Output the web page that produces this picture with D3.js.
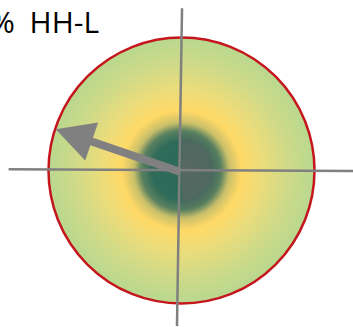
<!DOCTYPE html>
<html>
<head>
<meta charset="utf-8">
<script src="https://cdn.jsdelivr.net/npm/d3@7"></script>
<style>
  html, body { margin: 0; padding: 0; background: #fff; }
  svg { display: block; }
</style>
</head>
<body>
<svg id="chart" width="353" height="327"></svg>
<script>
// Indicator label, split so the unit sign can sit a little apart
const titleParts = ["%", " HH-L"];

// Resultant vector on the unit disc (x to the right, y upward)
const vectorX = [-0.946];
const vectorY = [0.31];

// Reference axes, endpoints in unit-disc coordinates
const axisNames = ["horizontal", "vertical"];
const axisStartX = [-1.30, 0.004];
const axisStartY = [0.01, 1.22];
const axisEndX = [1.29, -0.034];
const axisEndY = [-0.003, -1.17];

// Colour ramp from the centre of the disc to its rim
const rampOffsets = [0, 0.22, 0.3, 0.36, 0.45, 0.6, 0.8, 1];
const rampColors = ["#2e6a59", "#2f6b59", "#5a8160", "#c9bf6a", "#ffd966", "#ecdc7a", "#cfda88", "#b8d88f"];

const W = 353, H = 327;
const cx = 181.5, cy = 170.5, R = 133;

const x = d3.scaleLinear().domain([-1, 1]).range([cx - R, cx + R]);
const y = d3.scaleLinear().domain([-1, 1]).range([cy + R, cy - R]);

const svg = d3.select("#chart");
const defs = svg.append("defs");

const grad = defs.append("radialGradient")
  .attr("id", "discFill")
  .attr("gradientUnits", "userSpaceOnUse")
  .attr("cx", x(0)).attr("cy", y(0)).attr("r", x(1) - x(0));
grad.selectAll("stop")
  .data(rampOffsets)
  .join("stop")
  .attr("offset", d => d)
  .attr("stop-color", (d, i) => rampColors[i]);

// Soft grey haze over the right half of the core
const haze = defs.append("radialGradient")
  .attr("id", "coreHaze")
  .attr("gradientUnits", "userSpaceOnUse")
  .attr("cx", x(0)).attr("cy", y(0)).attr("r", x(0.3) - x(0));
haze.append("stop").attr("offset", 0).attr("stop-color", "#666").attr("stop-opacity", 0.75);
haze.append("stop").attr("offset", 0.7).attr("stop-color", "#666").attr("stop-opacity", 0.6);
haze.append("stop").attr("offset", 1).attr("stop-color", "#666").attr("stop-opacity", 0);

defs.append("clipPath").attr("id", "rightHalf")
  .append("rect")
  .attr("x", x(0)).attr("y", 0)
  .attr("width", W - x(0)).attr("height", H);

// Disc
svg.append("circle")
  .attr("cx", x(0)).attr("cy", y(0)).attr("r", x(1) - x(0))
  .attr("fill", "url(#discFill)");

svg.append("circle")
  .attr("cx", x(0)).attr("cy", y(0)).attr("r", x(0.3) - x(0))
  .attr("fill", "url(#coreHaze)")
  .attr("clip-path", "url(#rightHalf)");

svg.append("circle")
  .attr("cx", x(0)).attr("cy", y(0)).attr("r", x(1) - x(0))
  .attr("fill", "none")
  .attr("stroke", "#c4161c")
  .attr("stroke-width", 2.5);

// Axes
svg.selectAll("line.axis")
  .data(axisNames)
  .join("line")
  .attr("class", "axis")
  .attr("x1", (d, i) => x(axisStartX[i]))
  .attr("y1", (d, i) => y(axisStartY[i]))
  .attr("x2", (d, i) => x(axisEndX[i]))
  .attr("y2", (d, i) => y(axisEndY[i]))
  .attr("stroke", "#808080")
  .attr("stroke-width", 2.5);

// Vector arrow
function arrowPath(vx, vy) {
  const x0 = x(0) - 1.5, y0 = y(0) + 1.2;
  const x1 = x(vx), y1 = y(vy);
  const dx = x1 - x0, dy = y1 - y0;
  const len = Math.hypot(dx, dy);
  const ux = dx / len, uy = dy / len;
  const px = -uy, py = ux;
  const headLen = 38, headHalf = 20, shaftHalf = 4;
  const bx = x1 - ux * headLen, by = y1 - uy * headLen;
  const pts = [
    [x0 + px * shaftHalf, y0 + py * shaftHalf],
    [bx + px * shaftHalf, by + py * shaftHalf],
    [bx + px * headHalf, by + py * headHalf],
    [x1, y1],
    [bx - px * headHalf, by - py * headHalf],
    [bx - px * shaftHalf, by - py * shaftHalf],
    [x0 - px * shaftHalf, y0 - py * shaftHalf]
  ];
  return d3.line()(pts) + "Z";
}

svg.selectAll("path.vector")
  .data(vectorX)
  .join("path")
  .attr("class", "vector")
  .attr("d", (d, i) => arrowPath(vectorX[i], vectorY[i]))
  .attr("fill", "#808080");

// Label; the unit sign runs off the left edge
const label = svg.append("text")
  .attr("x", -10)
  .attr("y", 33)
  .attr("font-family", "'Open Sans', sans-serif")
  .attr("font-size", 30)
  .attr("fill", "#000");
label.selectAll("tspan")
  .data(titleParts)
  .join("tspan")
  .attr("dx", (d, i) => i === 0 ? 0 : 7)
  .text(d => d);
</script>
</body>
</html>
